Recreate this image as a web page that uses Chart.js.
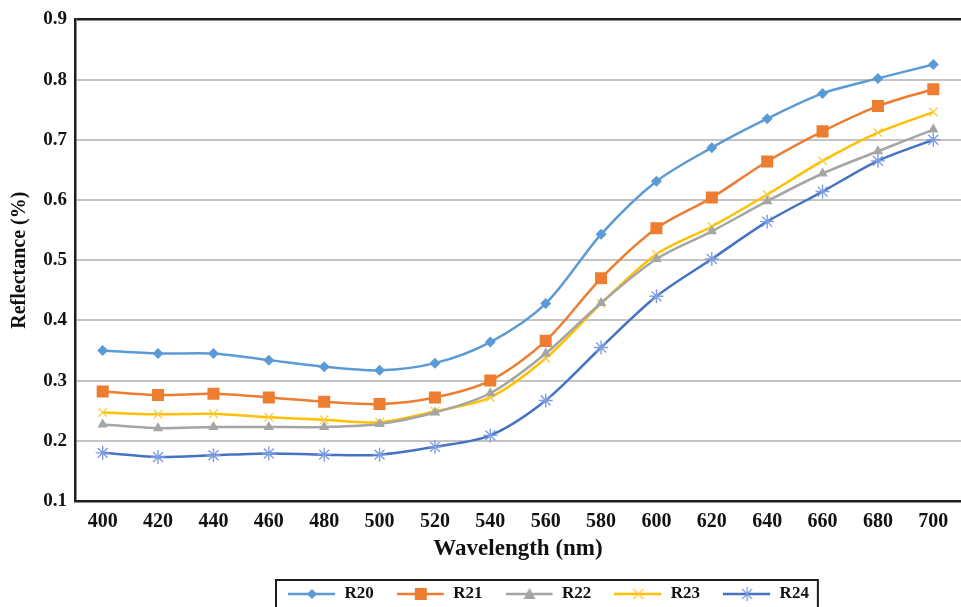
<!DOCTYPE html>
<html>
<head>
<meta charset="utf-8">
<script src="https://cdn.jsdelivr.net/npm/chart.js"></script>
<style>
  html, body { margin: 0; padding: 0; background: #fff; overflow: hidden; }
  canvas { display: block; }
</style>
</head>
<body>
<canvas id="chart" width="961" height="607"></canvas>
<script>
// wavelengths on the x axis
const wavelengths = [400, 420, 440, 460, 480, 500, 520, 540, 560, 580, 600, 620, 640, 660, 680, 700];

// reflectance per sample
const r20 = [0.350, 0.345, 0.345, 0.334, 0.323, 0.317, 0.329, 0.364, 0.428, 0.543, 0.631, 0.687, 0.735, 0.777, 0.802, 0.825];
const r21 = [0.282, 0.276, 0.278, 0.272, 0.265, 0.261, 0.272, 0.300, 0.366, 0.470, 0.553, 0.604, 0.664, 0.714, 0.756, 0.784];
const r22 = [0.227, 0.221, 0.223, 0.223, 0.223, 0.228, 0.247, 0.279, 0.345, 0.429, 0.502, 0.548, 0.598, 0.644, 0.681, 0.717];
const r23 = [0.247, 0.244, 0.245, 0.239, 0.235, 0.231, 0.249, 0.272, 0.337, 0.428, 0.510, 0.556, 0.609, 0.665, 0.712, 0.746];
const r24 = [0.180, 0.173, 0.176, 0.179, 0.177, 0.177, 0.190, 0.209, 0.267, 0.355, 0.440, 0.502, 0.564, 0.614, 0.665, 0.700];

const yTicks = [0.1, 0.2, 0.3, 0.4, 0.5, 0.6, 0.7, 0.8, 0.9];

const FONT = "'Liberation Serif', 'Times New Roman', serif";

// small picture of line + marker for the legend
function legendIcon(color, style, markColor) {
  const c = document.createElement('canvas');
  c.width = 48; c.height = 18;
  const g = c.getContext('2d');
  g.strokeStyle = color;
  g.lineWidth = 2.5;
  g.beginPath(); g.moveTo(0, 9); g.lineTo(47, 9); g.stroke();
  g.fillStyle = markColor;
  g.strokeStyle = markColor;
  const x = 24, y = 9;
  g.beginPath();
  if (style === 'rectRot') {
    g.moveTo(x, y - 5); g.lineTo(x + 5, y); g.lineTo(x, y + 5); g.lineTo(x - 5, y); g.closePath(); g.fill();
  } else if (style === 'rect') {
    g.fillRect(x - 6, y - 6, 12, 12);
  } else if (style === 'triangle') {
    g.moveTo(x, y - 6); g.lineTo(x + 6, y + 5); g.lineTo(x - 6, y + 5); g.closePath(); g.fill();
  } else if (style === 'crossRot') {
    g.lineWidth = 1.5;
    g.moveTo(x - 5, y - 5); g.lineTo(x + 5, y + 5); g.moveTo(x + 5, y - 5); g.lineTo(x - 5, y + 5); g.stroke();
  } else if (style === 'star') {
    g.lineWidth = 1.3;
    g.moveTo(x - 5, y - 5); g.lineTo(x + 5, y + 5); g.moveTo(x + 5, y - 5); g.lineTo(x - 5, y + 5);
    g.moveTo(x, y - 7); g.lineTo(x, y + 7); g.stroke();
  }
  return c;
}

function series(label, data, color, style, radius, markColor) {
  return {
    label: label,
    data: data,
    borderColor: color,
    backgroundColor: color,
    borderWidth: 2.5,
    tension: 0.3,
    pointStyle: style,
    pointRadius: radius,
    pointHoverRadius: radius,
    pointBackgroundColor: markColor,
    pointBorderColor: markColor,
    pointBorderWidth: (style === 'crossRot' || style === 'star') ? 1.4 : 0,
    legendIcon: legendIcon(color, style, markColor)
  };
}

// moves the legend to where the original has it and draws its frame
const legendFrame = {
  id: 'legendFrame',
  afterLayout(chart) {
    const lg = chart.legend;
    const pad = lg.options.labels.padding;
    const firstX = (lg.left + pad + lg.right - lg.lineWidths[0]) / 2;
    const dx = 288 - firstX;
    const dy = 594 - (lg.top + pad + 8.5);
    lg.left += dx; lg.right += dx;
    lg.top += dy; lg.bottom += dy;
  },
  afterDraw(chart) {
    const boxes = chart.legend.legendHitBoxes;
    if (!boxes || !boxes.length) return;
    const last = boxes[boxes.length - 1];
    const x0 = boxes[0].left - 12;
    const x1 = last.left + last.width + 9;
    const y0 = 580;
    const ctx = chart.ctx;
    ctx.save();
    ctx.strokeStyle = '#1e1e1e';
    ctx.lineWidth = 2;
    ctx.strokeRect(x0, y0, x1 - x0, chart.height - y0 + 20);
    ctx.restore();
  }
};

new Chart(document.getElementById('chart'), {
  type: 'line',
  data: {
    labels: wavelengths,
    datasets: [
      series('R20', r20, '#5B9BD5', 'rectRot', 5.5, '#5B9BD5'),
      series('R21', r21, '#ED7D31', 'rect', 8.5, '#ED7D31'),
      series('R22', r22, '#A5A5A5', 'triangle', 6, '#A5A5A5'),
      series('R23', r23, '#FFC000', 'crossRot', 6, '#F5CF4A'),
      series('R24', r24, '#4472C4', 'star', 7, '#7E9DE0')
    ]
  },
  options: {
    responsive: false,
    animation: false,
    devicePixelRatio: 1,
    layout: { autoPadding: false, padding: { top: 17, left: 0, right: 0, bottom: 0 } },
    plugins: {
      tooltip: { enabled: false },
      legend: {
        position: 'bottom',
        labels: {
          usePointStyle: true,
          pointStyleWidth: 48,
          padding: 23,
          color: '#111',
          font: { family: FONT, size: 17, weight: 'bold' },
          generateLabels(chart) {
            return chart.data.datasets.map((ds, i) => ({
              text: ds.label,
              pointStyle: ds.legendIcon,
              fillStyle: ds.borderColor,
              strokeStyle: ds.borderColor,
              lineWidth: 0,
              fontColor: '#111',
              datasetIndex: i,
              hidden: false
            }));
          }
        }
      }
    },
    scales: {
      x: {
        offset: true,
        grid: { display: false, drawTicks: false },
        border: { display: true, color: '#1e1e1e', width: 2.5 },
        ticks: {
          color: '#111',
          padding: 9,
          maxRotation: 0,
          autoSkip: false,
          font: { family: FONT, size: 20, weight: 'bold' }
        },
        title: {
          display: true,
          text: 'Wavelength (nm)',
          color: '#111',
          font: { family: FONT, size: 23, weight: 'bold' },
          padding: { top: 0, bottom: -6 }
        },
        afterFit(scale) {
          const lgH = scale.chart.legend ? scale.chart.legend.height : 0;
          scale.height = scale.chart.height - 501 - lgH;
          scale.paddingLeft = 0;
          scale.paddingRight = 0;
        }
      },
      y: {
        min: yTicks[0],
        max: yTicks[yTicks.length - 1],
        afterBuildTicks(scale) {
          scale.ticks = yTicks.map(v => ({ value: v }));
        },
        grid: {
          drawTicks: false,
          color: ctx => (ctx.tick && ctx.tick.value > 0.85) ? '#1e1e1e' : '#c4c4c4',
          lineWidth: ctx => (ctx.tick && ctx.tick.value > 0.85) ? 2.5 : 2
        },
        border: { display: true, color: '#1e1e1e', width: 2.5 },
        ticks: {
          color: '#111',
          padding: 8,
          font: { family: FONT, size: 19, weight: 'bold' },
          callback: v => Number(v).toFixed(1)
        },
        title: {
          display: true,
          text: 'Reflectance (%)',
          color: '#111',
          font: { family: FONT, size: 20, weight: 'bold' },
          padding: { top: 8, bottom: 0 }
        },
        afterFit(scale) {
          scale.width = 75;
        }
      }
    }
  },
  plugins: [legendFrame]
});
</script>
</body>
</html>
